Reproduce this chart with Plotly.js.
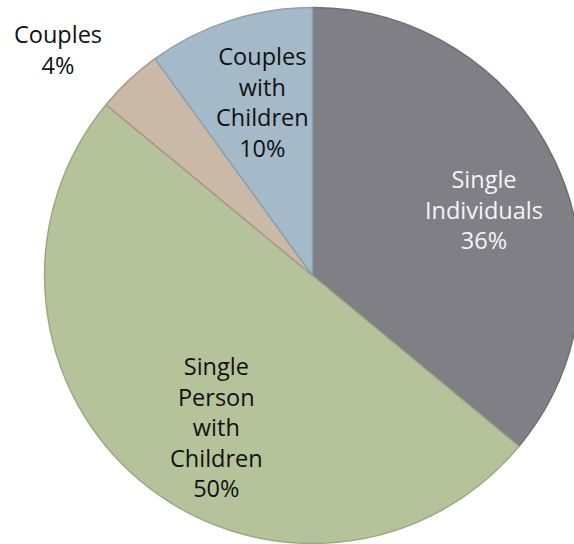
<!DOCTYPE html>
<html>
<head>
<meta charset="utf-8">
<script src="https://cdn.plot.ly/plotly-3.0.1.min.js"></script>
<style>
html,body{margin:0;padding:0;overflow:hidden;background:#fff;width:574px;height:544px;}
#chart{width:600px;height:544px;}
</style>
</head>
<body>
<div id="chart"></div>
<script>
var categories = ["Single Individuals", "Single Person with Children", "Couples", "Couples with Children"];
var displayLabels = ["Single<br>Individuals", "Single<br>Person<br>with<br>Children", "Couples", "Couples<br>with<br>Children"];
var shares = [36, 50, 4, 10];
var sliceColors = ["#807f86", "#b5c39b", "#c9b9a6", "#a4bac8"];
var borderColors = ["#6e6d74", "#9aa982", "#a99886", "#8aa1b0"];
var textColors = ["#f4f4f4", "#111111", "#111111", "#111111"];
var labelPos = [[484, 210], [216, 427], [58, 49], [262, 102]];

var W = 600, H = 544;
var cx = 312.5, cy = 275.5, R = 268;

var trace = {
  type: "pie",
  labels: categories,
  values: shares,
  sort: false,
  direction: "clockwise",
  rotation: 0,
  textinfo: "none",
  hoverinfo: "label+percent",
  marker: {colors: sliceColors, line: {color: borderColors, width: 1.5}},
  domain: {x: [(cx - R) / W, (cx + R) / W], y: [(H - cy - R) / H, (H - cy + R) / H]},
  showlegend: false
};

var annotations = categories.map(function (c, i) {
  return {
    text: displayLabels[i] + "<br>" + shares[i] + "%",
    x: labelPos[i][0] / W,
    y: (H - labelPos[i][1]) / H,
    xref: "paper", yref: "paper",
    xanchor: "center", yanchor: "middle",
    showarrow: false,
    align: "center",
    font: {family: "Open Sans, Noto Sans, sans-serif", size: 23.5, color: textColors[i]}
  };
});

var layout = {
  width: W, height: H,
  margin: {l: 0, r: 0, t: 0, b: 0},
  paper_bgcolor: "#ffffff",
  plot_bgcolor: "#ffffff",
  annotations: annotations
};

Plotly.newPlot("chart", [trace], layout, {displayModeBar: false, staticPlot: true});
</script>
</body>
</html>
